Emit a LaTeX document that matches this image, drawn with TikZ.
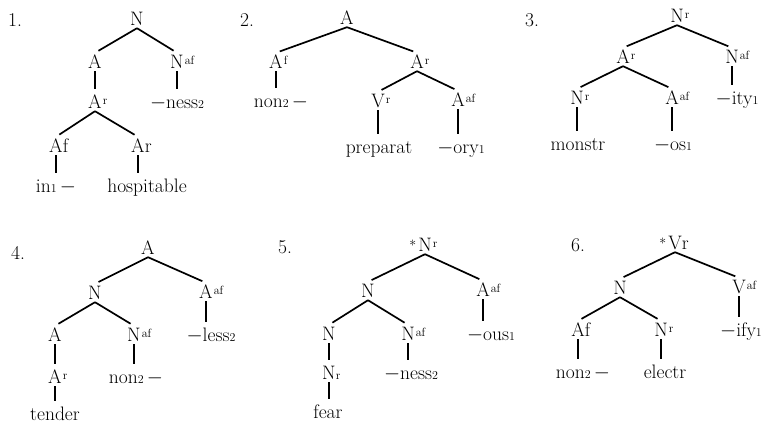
\documentclass[tikz,border=0pt]{standalone}
\usepackage{fontspec}
\usepackage{amsmath,amssymb}
\usetikzlibrary{positioning,calc}

\newcommand\feat[1]{\rlap{\kern1pt\raisebox{4pt}{\fontsize{12}{12}\selectfont #1}}}
\newcommand\ix[1]{{\fontsize{12}{12}\selectfont #1}}
\newcommand\astk{\llap{\raisebox{1pt}{\fontsize{14}{14}\selectfont *}\kern2pt}}

\begin{document}
\begin{tikzpicture}[x=1pt,y=-1pt,
  every node/.style={font=\fontsize{19.5}{22}\selectfont, inner sep=2.5pt, text height=13pt, text depth=0pt},
  br/.style={line width=1.7pt, shorten >=4pt}]
\useasboundingbox (0,0) rectangle (767,431);

% 1. in-hospitable-ness
\node (lab1) at (15,20) {1.};
\node (n1) at (137,19) {N};
\node (n1a) at (95,62) {A};
\node (n1b) at (177,62) {N\feat{af}};
\node (n1c) at (95,102) {A\feat{r}};
\node (n1d) at (177,102) {$-$ness\ix{2}};
\node (n1e) at (56,146) {A\rlap{f}};
\node (n1f) at (138,146) {A\rlap{r}};
\node (n1g) at (56,186) {in\ix{1}\,$-$};
\node (n1h) at (147,186) {hospitable};
\draw[br] (n1.south) -- (n1a.north);
\draw[br] (n1.south) -- (n1b.north);
\draw[br] (n1a.south) -- (n1c.north);
\draw[br] (n1b.south) -- (n1d.north);
\draw[br] (n1c.south) -- (n1e.north);
\draw[br] (n1c.south) -- (n1f.north);
\draw[br] (n1e.south) -- (n1e.south |- n1g.north);
\draw[br] (n1f.south) -- (n1f.south |- n1h.north);

% 2. non-preparat-ory
\node (lab2) at (247,20) {2.};
\node (n2) at (347,18) {A};
\node (n2a) at (276,62) {A\feat{f}};
\node (n2b) at (417,62) {A\feat{r}};
\node (n2c) at (281,101) {non\ix{2}\,$-$};
\node (n2d) at (378,101) {V\feat{r}};
\node (n2e) at (458,100) {A\feat{af}};
\node (n2f) at (379,147) {preparat};
\node (n2g) at (461,147) {$-$ory\ix{1}};
\draw[br] (n2.south) -- (n2a.north);
\draw[br] (n2.south) -- (n2b.north);
\draw[br] (n2a.south) -- (n2a.south |- n2c.north);
\draw[br] (n2b.south) -- (n2d.north);
\draw[br] (n2b.south) -- (n2e.north);
\draw[br] (n2d.south) -- (n2d.south |- n2f.north);
\draw[br] (n2e.south) -- (n2e.south |- n2g.north);

% 3. monstr-os-ity
\node (lab3) at (532,20) {3.};
\node (n3) at (677,16) {N\feat{r}};
\node (n3a) at (623,57) {A\feat{r}};
\node (n3b) at (732,57) {N\feat{af}};
\node (n3c) at (577,98) {N\feat{r}};
\node (n3d) at (672,98) {A\feat{af}};
\node (n3e) at (737,98) {$-$ity\ix{1}};
\node (n3f) at (578,144) {monstr};
\node (n3g) at (673,144) {$-$os\ix{1}};
\draw[br] (n3.south) -- (n3a.north);
\draw[br] (n3.south) -- (n3b.north);
\draw[br] (n3a.south) -- (n3c.north);
\draw[br] (n3a.south) -- (n3d.north);
\draw[br] (n3b.south) -- (n3b.south |- n3e.north);
\draw[br] (n3c.south) -- (n3c.south |- n3f.north);
\draw[br] (n3d.south) -- (n3d.south |- n3g.north);

% 4. tender-non-less
\node (lab4) at (18,253) {4.};
\node (n4) at (148,248) {A};
\node (n4a) at (95,293) {N};
\node (n4b) at (206,292) {A\feat{af}};
\node (n4c) at (55,335) {A};
\node (n4d) at (134,335) {N\feat{af}};
\node (n4e) at (211,335) {$-$less\ix{2}};
\node (n4f) at (55,377) {A\feat{r}};
\node (n4g) at (136,377) {non\ix{2}\,$-$};
\node (n4h) at (55,414) {tender};
\draw[br] (n4.south) -- (n4a.north);
\draw[br] (n4.south) -- (n4b.north);
\draw[br] (n4a.south) -- (n4c.north);
\draw[br] (n4a.south) -- (n4d.north);
\draw[br] (n4b.south) -- (n4b.south |- n4e.north);
\draw[br] (n4c.south) -- (n4f.north);
\draw[br] (n4d.south) -- (n4d.south |- n4g.north);
\draw[br] (n4f.south) -- (n4f.south |- n4h.north);

% 5. fear-ness-ous
\node (lab5) at (285,247) {5.};
\node (n5) at (425,245) {\astk N\feat{r}};
\node (n5a) at (368,291) {N};
\node (n5b) at (483,290) {A\feat{af}};
\node (n5c) at (329,334) {N};
\node (n5d) at (408,334) {N\feat{af}};
\node (n5e) at (491,334) {$-$ous\ix{1}};
\node (n5f) at (329,373) {N\rlap{\ix{r}}};
\node (n5g) at (411,373) {$-$ness\ix{2}};
\node (n5h) at (328,412) {fear};
\draw[br] (n5.south) -- (n5a.north);
\draw[br] (n5.south) -- (n5b.north);
\draw[br] (n5a.south) -- (n5c.north);
\draw[br] (n5a.south) -- (n5d.north);
\draw[br] (n5b.south) -- (n5b.south |- n5e.north);
\draw[br] (n5c.south) -- (n5f.north);
\draw[br] (n5d.south) -- (n5d.south |- n5g.north);
\draw[br] (n5f.south) -- (n5f.south |- n5h.north);

% 6. non-electr-ify
\node (lab6) at (578,245) {6.};
\node (n6) at (675,243) {\astk V\rlap{r}};
\node (n6a) at (620,288) {N};
\node (n6b) at (739,287) {V\feat{af}};
\node (n6c) at (578,330) {A\rlap{f}};
\node (n6d) at (661,330) {N\feat{r}};
\node (n6e) at (741,330) {$-$ify\ix{1}};
\node (n6f) at (583,372) {non\ix{2}\,$-$};
\node (n6g) at (665,372) {electr};
\draw[br] (n6.south) -- (n6a.north);
\draw[br] (n6.south) -- (n6b.north);
\draw[br] (n6a.south) -- (n6c.north);
\draw[br] (n6a.south) -- (n6d.north);
\draw[br] (n6b.south) -- (n6b.south |- n6e.north);
\draw[br] (n6c.south) -- (n6c.south |- n6f.north);
\draw[br] (n6d.south) -- (n6d.south |- n6g.north);
\end{tikzpicture}
\end{document}
